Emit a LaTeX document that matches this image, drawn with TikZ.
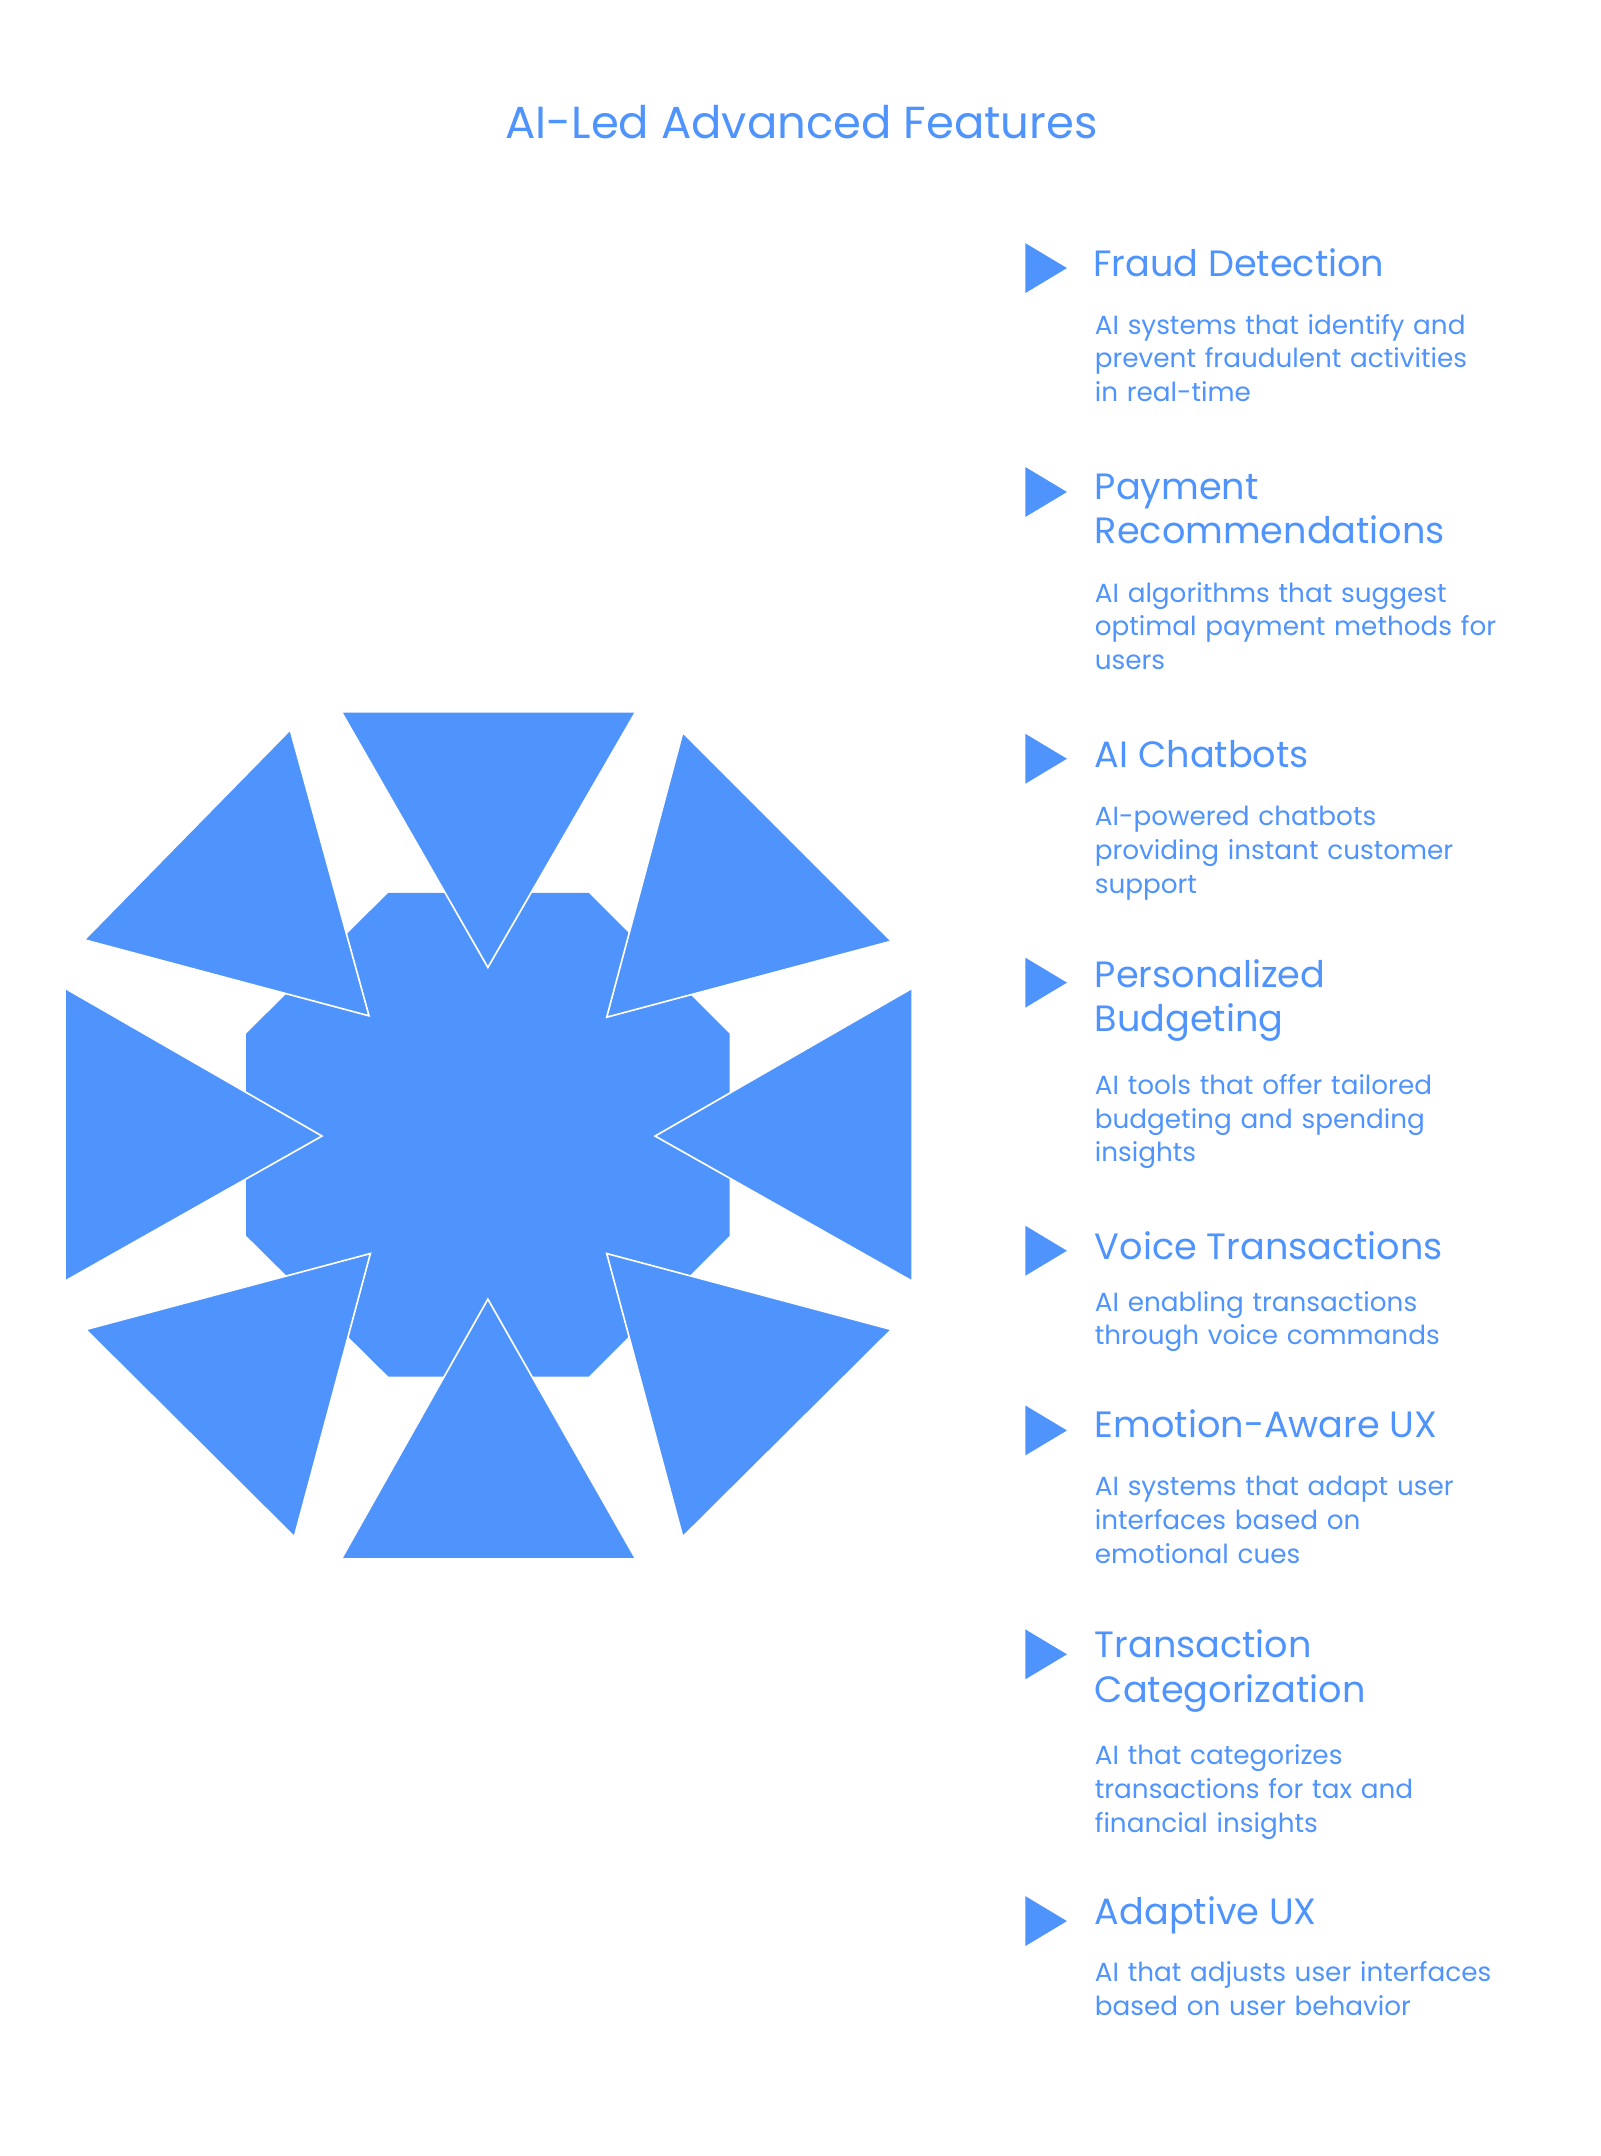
\documentclass[tikz,border=0pt]{standalone}
\usepackage{fontspec}
\setmainfont{Poppins}
\definecolor{ab}{HTML}{4F93FC}
\begin{document}
\begin{tikzpicture}[x=1pt,y=-1pt,
 sh/.style={fill=ab,draw=white,line width=1.2pt,line join=miter},
 hd/.style={anchor=west,text=ab,font=\fontsize{26.5}{32}\selectfont,align=left,inner sep=0pt},
 bd/.style={anchor=north west,text=ab,font=\fontsize{19}{24.5}\selectfont,align=left,inner sep=0pt,text width=360pt},
 mk/.style={fill=ab}]
\useasboundingbox (0,0) rectangle (1158,1560);
\node[text=ab,font=\fontsize{32.5}{36}\selectfont] (title) at (580,88) {AI-Led Advanced Features};
\fill[ab] (281,646)--(426,646)--(528,748)--(528,894)--(426,996)--(281,996)--(178,894)--(178,748)--cycle;
\begin{scope}[shift={(-2,-3)}]
\draw[sh] (249,518)--(462,518)--(355,703)--cycle;
\draw[sh] (249,1131)--(462,1131)--(355,943)--cycle;
\draw[sh] (49,718)--(49,930)--(235,825)--cycle;
\draw[sh] (662,718)--(662,930)--(476,825)--cycle;
\draw[sh] (212,531)--(63,683)--(269,738)--cycle;
\draw[sh] (496,533)--(647,684)--(441,739)--cycle;
\draw[sh] (64,965)--(215,1115)--(270,910)--cycle;
\draw[sh] (441,910)--(647,965)--(496,1115)--cycle;
\end{scope}
\foreach \y in {194,356,549,711,905,1035,1197,1390}{\fill[mk] (742,\y-18)--(772,\y)--(742,\y+18)--cycle;}
\node[hd] (h1) at (791,190) {Fraud Detection};
\node[bd] (b1) at (792,227) {AI systems that identify and\\prevent fraudulent activities\\in real-time};
\node[hd] (h2) at (792,368) {Payment\\Recommendations};
\node[bd] (b2) at (792,421) {AI algorithms that suggest\\optimal payment methods for\\users};
\node[hd] (h3) at (792,546) {AI Chatbots};
\node[bd] (b3) at (792,583) {AI-powered chatbots\\providing instant customer\\support};
\node[hd] (h4) at (792,724) {Personalized\\Budgeting};
\node[bd] (b4) at (792,777) {AI tools that offer tailored\\budgeting and spending\\insights};
\node[hd] (h5) at (792,901) {Voice Transactions};
\node[bd] (b5) at (792,934) {AI enabling transactions\\through voice commands};
\node[hd] (h6) at (792,1030) {Emotion-Aware UX};
\node[bd] (b6) at (792,1068) {AI systems that adapt user\\interfaces based on\\emotional cues};
\node[hd] (h7) at (792,1209) {Transaction\\Categorization};
\node[bd] (b7) at (792,1262) {AI that categorizes\\transactions for tax and\\financial insights};
\node[hd] (h8) at (792,1386) {Adaptive UX};
\node[bd] (b8) at (792,1419) {AI that adjusts user interfaces\\based on user behavior};
\end{tikzpicture}
\end{document}
